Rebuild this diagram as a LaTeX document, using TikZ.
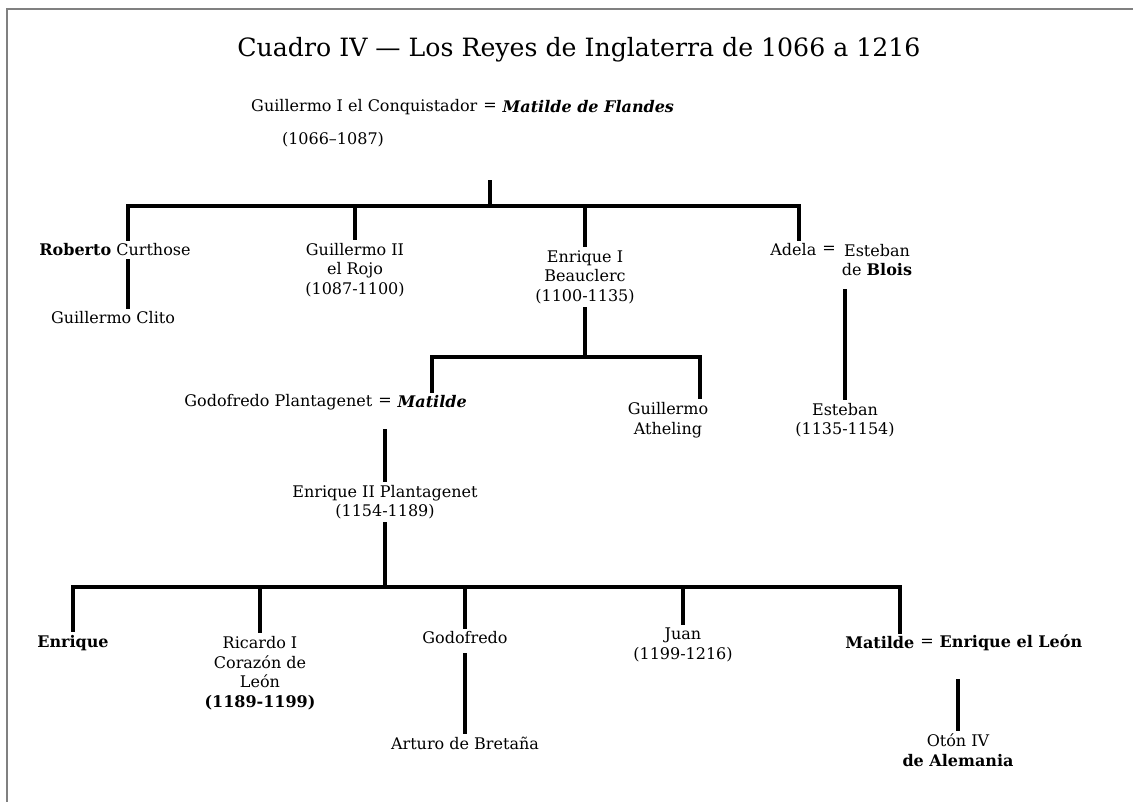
\documentclass[tikz,border=0pt]{standalone}
\usepackage{fontspec}
\setmainfont{DejaVu Serif}
\usetikzlibrary{positioning}
\tikzset{
    persona/.style={font=\fontsize{16}{19.5}\selectfont, align=center, inner sep=0pt, outer sep=5pt},
    rama/.style={line width=3.8pt, line cap=rect},
}
\begin{document}
\begin{tikzpicture}[x=1pt, y=-1pt]
        \useasboundingbox (0,0) rectangle (1133,802);
        \draw[gray, line width=1.5pt] (7,802) |- (1133,9);
        \node[font=\fontsize{25.2}{30}\selectfont] (titulo) at (579,50) {Cuadro IV — Los Reyes de Inglaterra de 1066 a 1216};

        \node[persona] (igual0) at (490,107) {=};
        \node[persona, left=-4pt of igual0] (guillermo) {Guillermo I el Conquistador};
        \node[persona, right=-4pt of igual0] (matildeF) {\textbf{\textit{Matilde de Flandes}}};
        \node[persona] (fecha) at (333,140) {(1066–1087)};
        \coordinate (j1) at (490,206);

        \node[persona] (roberto) at (115,250) {\textbf{Roberto} Curthose};
        \node[persona] (guillermoII) at (355,270) {Guillermo II\\el Rojo\\(1087-1100)};
        \node[persona] (enriqueI) at (585,277) {Enrique I\\Beauclerc\\(1100-1135)};
        \node[persona] (igual1) at (829,250) {=};
        \node[persona, left=-4pt of igual1] (adela) {Adela};
        \node[persona, anchor=north] (esteban) at (877,239) {Esteban\\de \textbf{Blois}};
        \node[persona] (clito) at (113,318) {Guillermo Clito};

        \coordinate (j2) at (585,357);
        \node[persona] (igual2) at (385,402) {=};
        \node[persona, left=-4pt of igual2] (godofredo) {Godofredo Plantagenet};
        \node[persona, right=-4pt of igual2] (matilde) {\textbf{\textit{Matilde}}};
        \node[persona] (atheling) at (668,420) {Guillermo\\Atheling};
        \node[persona] (estebanII) at (845,420) {Esteban\\(1135-1154)};

        \node[persona] (enriqueII) at (385,502) {Enrique II Plantagenet\\(1154-1189)};
        \coordinate (j3) at (385,587);

        \node[persona] (enrique) at (73,643) {\textbf{Enrique}};
        \node[persona] (ricardo) at (260,673) {Ricardo I\\Corazón de\\León\\\textbf{(1189-1199)}};
        \node[persona] (godofredoII) at (465,638) {Godofredo};
        \node[persona] (juan) at (683,645) {Juan\\(1199-1216)};
        \node[persona] (igual3) at (927,643) {=};
        \node[persona, left=-4pt of igual3] (matildeII) {\textbf{Matilde}};
        \node[persona, right=-4pt of igual3] (leon) {\textbf{Enrique el León}};
        \node[persona] (arturo) at (465,743) {Arturo de Bretaña};
        \node[persona] (oton) at (958,750) {Otón IV\\\textbf{de Alemania}};

        \draw[rama, shorten <=66pt] (igual0) -- (j1);
        \draw[rama] (j1) -| ([xshift=13pt]roberto.north);
        \draw[rama] (j1) -| (guillermoII);
        \draw[rama] (j1) -| (enriqueI);
        \draw[rama] (j1) -| ([xshift=6pt]adela.north);
        \draw[rama] ([xshift=13pt]roberto.south) -- ([xshift=15pt]clito.north);
        \draw[rama, shorten <=10pt] ([xshift=-32pt]esteban.south) -- (estebanII);

        \draw[rama] (enriqueI) -- (j2);
        \draw[rama] (j2) -| (matilde);
        \draw[rama] (j2) -| ([xshift=32pt]atheling.north);
        \draw[rama, shorten <=20pt] (igual2) -- (enriqueII);

        \draw[rama] (enriqueII) -- (j3);
        \draw[rama] (j3) -| (enrique);
        \draw[rama] (j3) -| (ricardo);
        \draw[rama] (j3) -| (godofredoII);
        \draw[rama] (j3) -| (juan);
        \draw[rama] (j3) -| ([xshift=20pt]matildeII.north);
        \draw[rama, shorten <=6pt] (godofredoII) -- (arturo);
        \draw[rama, shorten <=25pt] (leon.south -| oton) -- (oton);
\end{tikzpicture}
\end{document}
